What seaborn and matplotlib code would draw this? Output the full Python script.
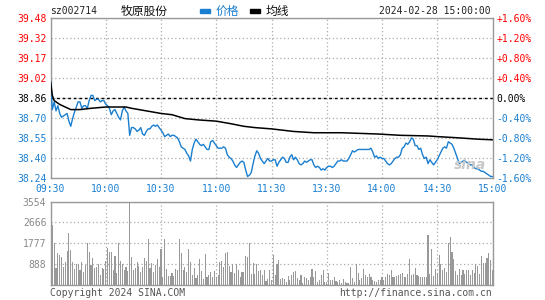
import numpy as np
import pandas as pd
import matplotlib
matplotlib.use("Agg")
import matplotlib.pyplot as plt
import seaborn as sns

# ---------------- data ----------------
prev_close = 38.86

price = [
    38.99, 38.77, 38.83, 38.76, 38.80, 38.74, 38.71, 38.72, 38.73, 38.74,
    38.68, 38.64, 38.70, 38.75, 38.79, 38.83, 38.83, 38.78, 38.80, 38.80,
    38.78, 38.84, 38.88, 38.88, 38.84, 38.85, 38.85, 38.83, 38.84, 38.84,
    38.81, 38.80, 38.78, 38.73, 38.76, 38.77, 38.74, 38.71, 38.69, 38.76,
    38.79, 38.76, 38.74, 38.57, 38.63, 38.63, 38.62, 38.60, 38.61, 38.63,
    38.58, 38.57, 38.60, 38.62, 38.62, 38.64, 38.65, 38.64, 38.65, 38.63,
    38.61, 38.59, 38.56, 38.57, 38.58, 38.56, 38.57, 38.57, 38.56, 38.55,
    38.52, 38.48, 38.47, 38.46, 38.43, 38.41, 38.37, 38.46, 38.51, 38.54,
    38.52, 38.50, 38.49, 38.50, 38.48, 38.46, 38.46, 38.52, 38.53, 38.51,
    38.49, 38.47, 38.47, 38.47, 38.48, 38.47, 38.42, 38.40, 38.39, 38.37,
    38.34, 38.32, 38.34, 38.36, 38.37, 38.36, 38.30, 38.25, 38.26, 38.28,
    38.35, 38.41, 38.45, 38.43, 38.39, 38.37, 38.35, 38.37, 38.39, 38.37,
    38.37, 38.38, 38.38, 38.33, 38.36, 38.38, 38.40, 38.39, 38.36, 38.36,
    38.40, 38.42, 38.38, 38.40, 38.38, 38.35, 38.34, 38.35, 38.37, 38.36,
    38.37, 38.38, 38.38, 38.34, 38.32, 38.33, 38.32, 38.30, 38.31, 38.30,
    38.32, 38.33, 38.33, 38.32, 38.33, 38.35, 38.37, 38.37, 38.38, 38.37,
    38.37, 38.37, 38.39, 38.42, 38.45, 38.44, 38.45, 38.46, 38.46, 38.46,
    38.46, 38.46, 38.46, 38.46, 38.47, 38.44, 38.40, 38.41, 38.39, 38.40,
    38.39, 38.39, 38.37, 38.35, 38.34, 38.35, 38.37, 38.39, 38.40, 38.40,
    38.42, 38.47, 38.48, 38.51, 38.50, 38.52, 38.55, 38.54, 38.49, 38.49,
    38.46, 38.47, 38.42, 38.39, 38.40, 38.35, 38.38, 38.36, 38.34, 38.36,
    38.38, 38.41, 38.44, 38.47, 38.48, 38.47, 38.52, 38.51, 38.50, 38.47,
    38.43, 38.39, 38.35, 38.36, 38.37, 38.37, 38.36, 38.35, 38.34, 38.34,
    38.32, 38.31, 38.31, 38.30, 38.29, 38.29, 38.28, 38.27, 38.26, 38.25,
    38.25,
]

avg_minute = [0, 1, 2, 3, 5, 8, 11, 16, 22, 30, 36, 41, 44, 48, 52, 56, 60,
              66, 73, 80, 90, 98, 105, 111, 120, 132, 143, 158, 178, 190,
              205, 210, 222, 232, 240]
avg_price = [38.99, 38.88, 38.84, 38.83, 38.81, 38.79, 38.77, 38.77, 38.78,
             38.79, 38.79, 38.79, 38.78, 38.77, 38.76, 38.75, 38.74, 38.73,
             38.70, 38.69, 38.68, 38.66, 38.64, 38.63, 38.62, 38.60, 38.59,
             38.59, 38.58, 38.57, 38.565, 38.56, 38.55, 38.54, 38.535]

volume = [
    355, 2556, 1775, 710, 1377, 1278, 1179, 781, 994, 1463,
    2229, 1491, 966, 682, 895, 895, 639, 994, 568, 852,
    1775, 1420, 852, 1164, 710, 753, 895, 426, 710, 667,
    1022, 1590, 1420, 1420, 639, 1235, 525, 1775, 1022, 895,
    639, 781, 600, 3554, 1207, 639, 710, 994, 809, 568,
    781, 1136, 1037, 1960, 710, 951, 568, 852, 1093, 781,
    1519, 355, 1960, 667, 383, 383, 525, 383, 682, 639,
    1945, 1377, 639, 781, 568, 1519, 994, 426, 710, 312,
    426, 1093, 611, 256, 1306, 327, 426, 568, 355, 596,
    327, 426, 994, 1022, 781, 1377, 1420, 809, 568, 895,
    525, 895, 639, 327, 568, 568, 1235, 1179, 1775, 469,
    951, 469, 895, 611, 639, 426, 639, 170, 241, 639,
    213, 1278, 426, 895, 1065, 256, 284, 256, 142, 383,
    213, 426, 540, 596, 284, 213, 426, 71, 327, 312,
    213, 327, 682, 327, 596, 142, 213, 426, 639, 142,
    142, 497, 213, 213, 327, 170, 142, 213, 99, 241,
    142, 99, 99, 781, 284, 142, 880, 497, 213, 284,
    682, 426, 355, 469, 327, 213, 170, 142, 213, 213,
    327, 213, 327, 469, 426, 639, 355, 327, 383, 426,
    469, 525, 327, 355, 469, 1108, 426, 469, 738, 426,
    383, 355, 355, 355, 355, 2130, 469, 1534, 383, 682,
    525, 1278, 895, 639, 710, 568, 1775, 2031, 1420, 1108,
    611, 426, 682, 426, 639, 469, 639, 639, 426, 639,
    525, 895, 809, 469, 1235, 951, 951, 1164, 1377, 1065,
    639,
]

time_ticks = [0, 30, 60, 90, 120, 150, 180, 210, 240]
time_labels = ["09:30", "10:00", "10:30", "11:00", "11:30",
               "13:30", "14:00", "14:30", "15:00"]
pct_levels = [1.6, 1.2, 0.8, 0.4, 0.0, -0.4, -0.8, -1.2, -1.6]
price_tick_labels = ["39.48", "39.32", "39.17", "39.02", "38.86",
                     "38.70", "38.55", "38.40", "38.24"]
pct_tick_labels = ["+1.60%", "+1.20%", "+0.80%", "+0.40%", "0.00%",
                   "-0.40%", "-0.80%", "-1.20%", "-1.60%"]
vol_ticks = [888, 1777, 2666, 3554]
vol_tick_labels = ["888", "1777", "2666", "3554"]

stock_code = "sz002714"
stock_name = "牧原股份"
legend_labels = ["价格", "均线"]
timestamp = "2024-02-28 15:00:00"
footer_left = "Copyright 2024 SINA.COM"
footer_right = "http://finance.sina.com.cn"

# ---------------- style ----------------
BLUE = "#1a7fd0"
RED = "#ff0000"
GRID = "#aaaaaa"
BORDER = "#999999"
BAR = "#999999"

sns.set_theme(style="white")
plt.rcParams["font.family"] = ["DejaVu Sans Mono", "Noto Sans CJK SC"]

W, H = 545, 300
fig = plt.figure(figsize=(W / 100, H / 100), dpi=100)
fig.patch.set_facecolor("white")

def fx(px):
    return px / W

def fy(py):
    return 1 - py / H

L, R = 50.5, 492.5
ax = fig.add_axes([fx(L), fy(178), fx(R - L), (178 - 18) / H])
axv = fig.add_axes([fx(L), fy(285), fx(R - L), (285 - 201.5) / H])

minutes = np.arange(len(price))
df = pd.DataFrame({"minute": minutes, "price": price, "volume": volume})
df_avg = pd.DataFrame({"minute": avg_minute, "avg": avg_price})

ymin = prev_close * (1 - 0.016)
ymax = prev_close * (1 + 0.016)
price_ticks = [prev_close * (1 + p / 100) for p in pct_levels]

grid_kw = dict(color=GRID, linestyle=(0, (1, 2)), linewidth=0.9)

# price panel
ax.set_xlim(0, 240)
ax.set_ylim(ymin, ymax)
ax.set_xticks(time_ticks)
ax.set_yticks(price_ticks)
ax.grid(True, **grid_kw)
ax.axhline(prev_close, color="black", linestyle=(0, (2, 2)), linewidth=1.0, zorder=2)

sns.lineplot(data=df, x="minute", y="price", ax=ax, color=BLUE,
             linewidth=1.0, estimator=None, zorder=3)
sns.lineplot(data=df_avg, x="minute", y="avg", ax=ax, color="black",
             linewidth=1.1, estimator=None, zorder=4)

ax.set_xlim(0, 240)
ax.set_ylim(ymin, ymax)
ax.set_xticks(time_ticks)
ax.set_xticklabels(time_labels)
ax.set_yticks(price_ticks)
ax.set_yticklabels(price_tick_labels)
ax.set_xlabel("")
ax.set_ylabel("")
ax.tick_params(axis="both", length=0, labelsize=7, pad=3)
ax.tick_params(axis="x", pad=4, labelcolor=BLUE)
for lab, p in zip(ax.get_yticklabels(), pct_levels):
    lab.set_color(RED if p > 0 else ("black" if p == 0 else BLUE))
for s in ax.spines.values():
    s.set_color(BORDER)
    s.set_linewidth(1.0)

ax2 = ax.twinx()
ax2.set_ylim(-1.6, 1.6)
ax2.set_yticks(pct_levels)
ax2.set_yticklabels(pct_tick_labels)
ax2.tick_params(axis="y", length=0, labelsize=7, pad=3)
for lab, p in zip(ax2.get_yticklabels(), pct_levels):
    lab.set_color(RED if p > 0 else ("black" if p == 0 else BLUE))
for s in ax2.spines.values():
    s.set_visible(False)

# volume panel
sns.barplot(data=df, x="minute", y="volume", ax=axv, native_scale=True,
            color=BAR, width=0.6, saturation=1, errorbar=None,
            edgecolor="none", linewidth=0, antialiased=False)
axv.set_xlim(0, 240)
axv.set_ylim(0, 3554)
axv.set_xticks(time_ticks)
axv.set_xticklabels([])
axv.set_yticks(vol_ticks)
axv.set_yticklabels(vol_tick_labels)
axv.set_xlabel("")
axv.set_ylabel("")
axv.grid(True, **grid_kw)
axv.set_axisbelow(True)
axv.tick_params(axis="both", length=0, labelsize=7, pad=3, labelcolor="#888888")
for s in axv.spines.values():
    s.set_color(BORDER)
    s.set_linewidth(1.0)

# header
fig.text(fx(50), fy(11), stock_code, fontsize=7, color="#222222", va="center", ha="left")
fig.text(fx(121), fy(11), stock_name, fontsize=8.5, color="#111111", va="center",
         ha="left", family=["Noto Sans CJK SC", "DejaVu Sans"])
fig.patches.append(plt.Rectangle((fx(200), fy(12.5)), fx(10), 3 / H,
                                 transform=fig.transFigure, color=BLUE))
fig.text(fx(216), fy(11), legend_labels[0], fontsize=8.5, color=BLUE, va="center",
         ha="left", family=["Noto Sans CJK SC", "DejaVu Sans"])
fig.patches.append(plt.Rectangle((fx(250), fy(12.5)), fx(10), 3 / H,
                                 transform=fig.transFigure, color="black"))
fig.text(fx(266), fy(11), legend_labels[1], fontsize=8.5, color="#111111", va="center",
         ha="left", family=["Noto Sans CJK SC", "DejaVu Sans"])
fig.text(fx(491), fy(11), timestamp, fontsize=7, color="#222222", va="center", ha="right")

# footer
fig.text(fx(50), fy(293), footer_left, fontsize=7, color="#555555", va="center", ha="left")
fig.text(fx(492), fy(293), footer_right, fontsize=7, color="#555555", va="center", ha="right")

# watermark
fig.text(fx(470), fy(165), "sina", fontsize=10, color="#c8c8c8", style="italic",
         weight="bold", va="center", ha="center", family="DejaVu Sans")

fig.savefig("out.png", dpi=100, facecolor="white")
